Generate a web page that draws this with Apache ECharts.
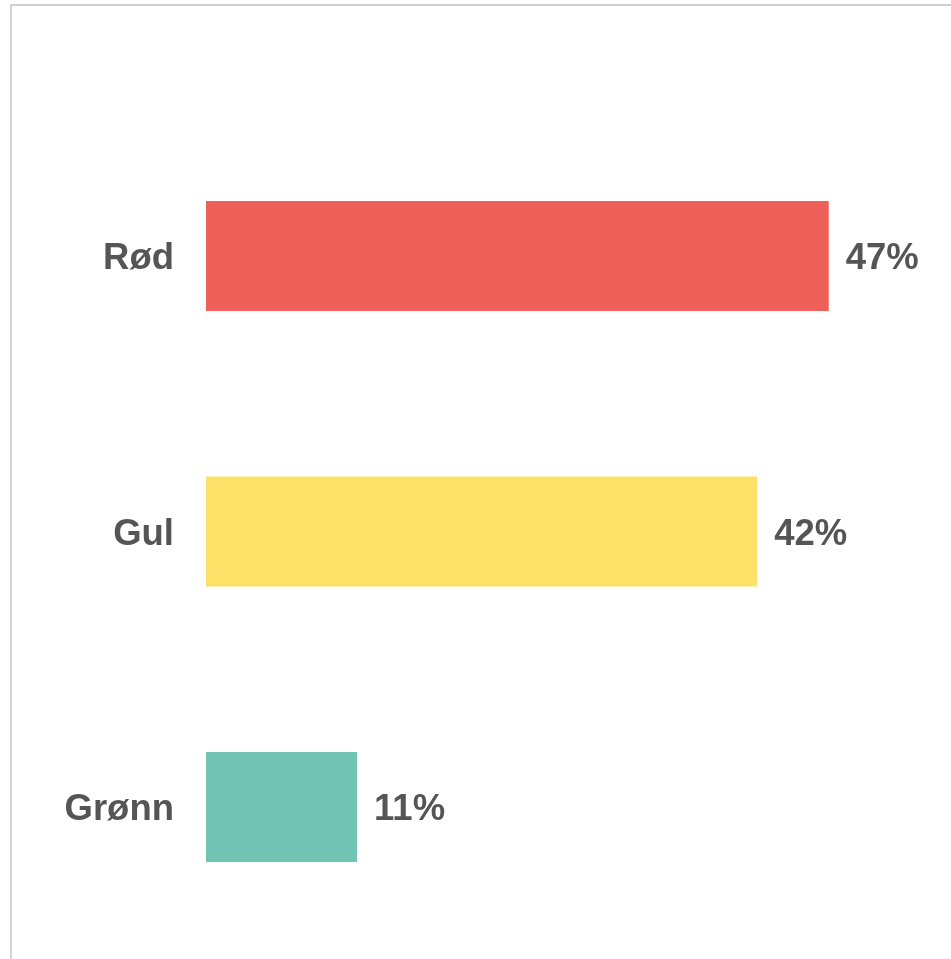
<!DOCTYPE html>
<html>
<head>
<meta charset="utf-8">
<script src="https://cdn.jsdelivr.net/npm/echarts@6/dist/echarts.min.js"></script>
<style>
  html, body { margin: 0; padding: 0; background: #fff; overflow: hidden; }
  #frame { position: absolute; left: 10px; top: 4px; width: 1000px; height: 1000px;
           border-top: 2px solid #cfcfcf; border-left: 2px solid #d4d4d4; box-sizing: border-box; }
  #chart { position: absolute; left: 0; top: 0; width: 951px; height: 959px; }
</style>
</head>
<body>
<div id="frame"></div>
<div id="chart"></div>
<script>
const categories = ['Rød', 'Gul', 'Grønn'];
const values = [47.0, 41.6, 11.4];
const valueLabels = ['47%', '42%', '11%'];
const colors = ['#f0605b', '#fde068', '#72c4b4'];

const chart = echarts.init(document.getElementById('chart'), null, { renderer: 'canvas' });
const font = '"Liberation Sans", Arial, sans-serif';
chart.setOption({
  animation: false,
  grid: { left: 206, right: 82.5, top: 118.25, bottom: 14.25, containLabel: false },
  xAxis: {
    type: 'value', min: 0, max: 50, show: false
  },
  yAxis: {
    type: 'category', data: categories, inverse: true,
    axisLine: { show: false }, axisTick: { show: false }, splitLine: { show: false },
    axisLabel: {
      margin: 32,
      formatter: v => '{a|' + v + '}',
      rich: { a: { color: '#555555', fontSize: 36.5, fontWeight: 'bold', fontFamily: font, padding: [6, 0, 0, 0] } }
    }
  },
  series: [{
    type: 'bar',
    barCategoryGap: '60%',
    data: values.map((v, i) => ({ value: v, itemStyle: { color: colors[i] } })),
    label: {
      show: true, position: 'right', distance: 17, offset: [0, 3],
      color: '#555555', fontSize: 36.5, fontWeight: 'bold', fontFamily: font,
      formatter: p => valueLabels[p.dataIndex]
    }
  }]
});
</script>
</body>
</html>
